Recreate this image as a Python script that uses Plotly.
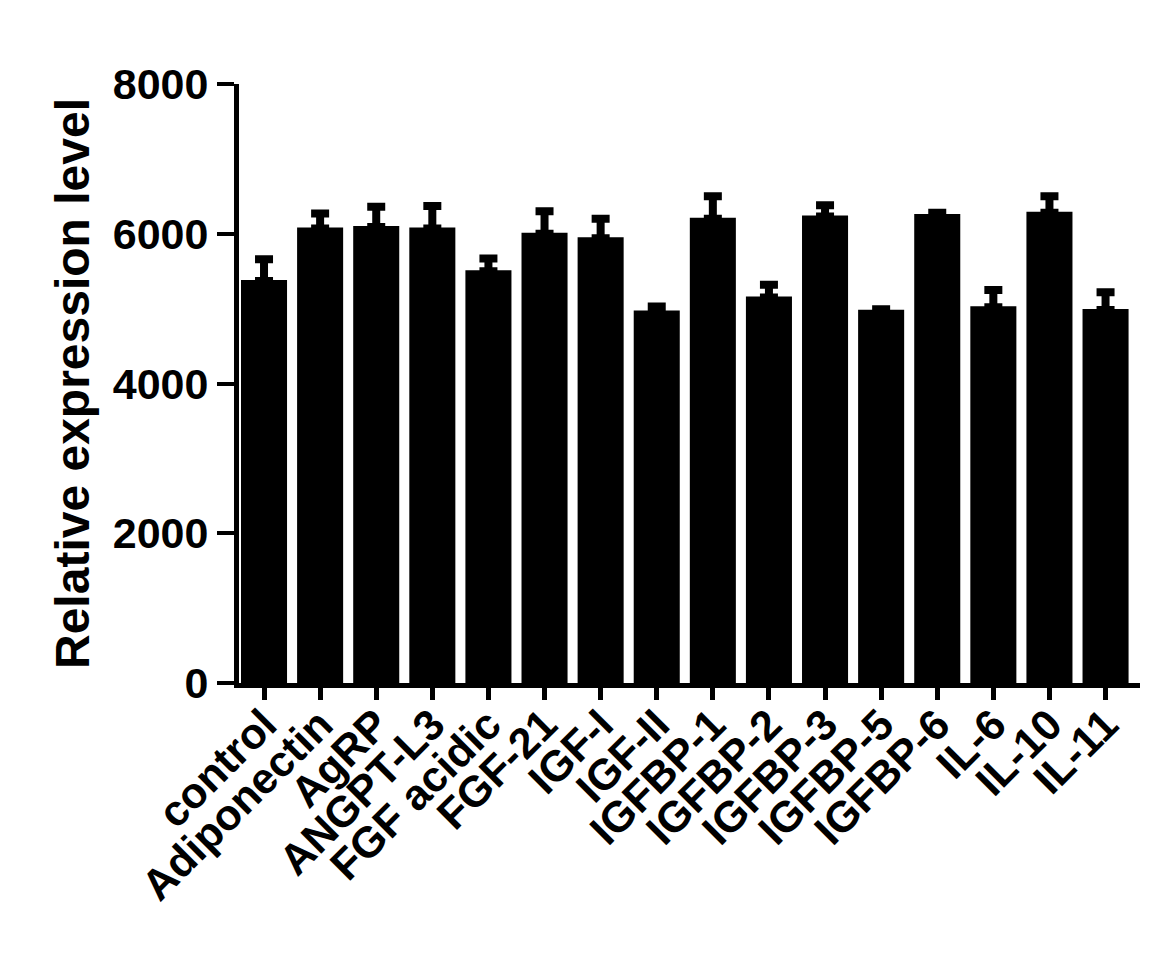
import plotly.graph_objects as go

# values
proteins = ['control', 'Adiponectin', 'AgRP', 'ANGPT-L3', 'FGF acidic', 'FGF-21',
            'IGF-I', 'IGF-II', 'IGFBP-1', 'IGFBP-2', 'IGFBP-3', 'IGFBP-5',
            'IGFBP-6', 'IL-6', 'IL-10', 'IL-11']
expression = [5370, 6070, 6090, 6070, 5500, 6000, 5940, 4960,
              6200, 5150, 6230, 4970, 6250, 5020, 6280, 4980]
sem = [290, 200, 270, 300, 170, 300, 260, 70,
       300, 170, 150, 20, 30, 230, 220, 240]

FONT = 'Liberation Sans'

trace = go.Bar(
    x=list(range(len(proteins))),
    y=expression,
    marker=dict(color='black', line=dict(color='black', width=2)),
    error_y=dict(
        type='data',
        symmetric=False,
        array=sem,
        arrayminus=[0] * len(sem),
        color='black',
        thickness=8,
        width=9,
    ),
)

# the page body adds an 8px margin, so the figure is a bit smaller
layout = go.Layout(
    width=1159,
    height=968,
    plot_bgcolor='white',
    paper_bgcolor='white',
    showlegend=False,
    bargap=0.215,
    margin=dict(l=231, r=27, t=76, b=293),
    font=dict(family=FONT, size=43, color='black', weight=700),
    xaxis=dict(
        range=[-0.446, 15.614],
        tickmode='array',
        tickvals=list(range(len(proteins))),
        ticktext=proteins,
        tickangle=-45,
        showline=True,
        linecolor='black',
        linewidth=5,
        ticks='outside',
        ticklen=12,
        tickwidth=5,
        tickcolor='black',
        ticklabelstandoff=-18,
        showgrid=False,
        zeroline=False,
        tickfont=dict(family=FONT, size=43, weight=700),
    ),
    yaxis=dict(
        range=[0, 8000],
        tickvals=[0, 2000, 4000, 6000, 8000],
        showline=True,
        linecolor='black',
        linewidth=5,
        ticks='outside',
        ticklen=17,
        tickwidth=4,
        tickcolor='black',
        showgrid=False,
        zeroline=False,
        tickfont=dict(family=FONT, size=43, weight=700),
        title=dict(
            text='Relative expression level',
            font=dict(family=FONT, size=48, weight=700),
            standoff=9,
        ),
    ),
)

fig = go.Figure(data=[trace], layout=layout)
fig.write_html('out.html', config={'displayModeBar': False})
